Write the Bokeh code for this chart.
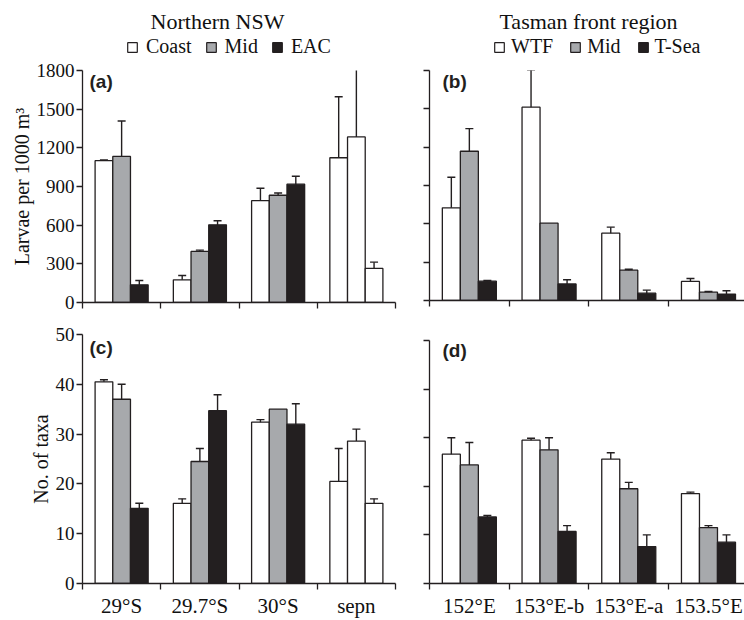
from bokeh.plotting import figure
from bokeh.models import (FixedTicker, Whisker, TeeHead, ColumnDataSource, Label,
                          Legend, LegendItem, CustomJSTickFormatter)
from bokeh.layouts import column, row
from bokeh.embed import file_html
from bokeh.resources import INLINE

# ---------------- data ----------------
cats_n = ["29°S", "29.7°S", "30°S", "sepn"]
cats_t = ["152°E", "153°E-b", "153°E-a", "153.5°E"]
series_n = ["Coast", "Mid", "EAC"]
series_t = ["WTF", "Mid", "T-Sea"]
region_titles = ["Northern NSW", "Tasman front region"]
white_groups = ["sepn"]  # all bars of this group are drawn unfilled in the original

# (a) larvae per 1000 m3, northern NSW
a_coast = [1100, 176, 790, 1123]
a_coast_err = [6, 33, 96, 473]
a_mid = [1133, 396, 832, 1285]
a_mid_err = [275, 10, 17, 572]
a_eac = [137, 603, 918, 264]
a_eac_err = [34, 31, 62, 49]

# (b) larvae per 1000 m3, Tasman front
b_wtf = [725, 1513, 527, 149]
b_wtf_err = [240, 290, 47, 23]
b_mid = [1168, 605, 237, 65]
b_mid_err = [177, 0, 8, 6]
b_tsea = [151, 130, 57, 50]
b_tsea_err = [5, 32, 24, 26]

# (c) number of taxa, northern NSW
c_coast = [40.5, 16.1, 32.4, 20.5]
c_coast_err = [0.4, 0.9, 0.5, 6.6]
c_mid = [37.0, 24.5, 35.0, 28.6]
c_mid_err = [3.0, 2.6, 0.0, 2.4]
c_eac = [15.1, 34.7, 32.0, 16.1]
c_eac_err = [1.0, 3.2, 4.1, 0.9]

# (d) number of taxa, Tasman front
d_wtf = [26.6, 29.5, 25.6, 18.5]
d_wtf_err = [3.4, 0.4, 1.3, 0.3]
d_mid = [24.4, 27.5, 19.5, 11.5]
d_mid_err = [4.6, 2.5, 1.3, 0.4]
d_tsea = [13.7, 10.7, 7.6, 8.5]
d_tsea_err = [0.3, 1.2, 2.4, 1.5]

larvae_ticks = [0, 300, 600, 900, 1200, 1500, 1800]
taxa_ticks = [0, 10, 20, 30, 40, 50]

# ---------------- style ----------------
SERIF = "Liberation Serif"
SANS = "Liberation Sans"
INK = "#231f20"
TXT = "#111111"
FILLS = ["#ffffff", "#a7a9ac", "#231f20"]
BAR_W = 0.226
OFFS = [-BAR_W, 0.0, BAR_W]
HEADER_H = 60

empty_fmt = CustomJSTickFormatter(code="return ''")


def make_panel(width, height, mb_left, mb_right, mb_top, mb_bottom, ymax, yticks,
               xend, cats, show_xlabels, show_ylabels, ylabel):
    p = figure(width=width, height=height, x_range=(0, xend), y_range=(0, ymax),
               output_backend="svg", toolbar_location=None,
               min_border_left=mb_left, min_border_right=mb_right,
               min_border_top=mb_top, min_border_bottom=mb_bottom)
    p.outline_line_color = None
    p.grid.visible = False
    p.background_fill_color = None
    p.border_fill_color = None
    n = len(cats)
    centers = [i + 0.5 for i in range(n)]
    p.xaxis.ticker = FixedTicker(ticks=centers, minor_ticks=list(range(n + 1)))
    p.xaxis.major_tick_out = 0
    p.xaxis.major_tick_in = 0
    p.xaxis.minor_tick_out = 6
    p.xaxis.minor_tick_in = 0
    p.xaxis.axis_line_color = INK
    p.xaxis.minor_tick_line_color = INK
    p.xaxis.axis_line_width = 1.3
    p.xaxis.minor_tick_line_width = 1.3
    if show_xlabels:
        p.xaxis.major_label_overrides = {c: lab for c, lab in zip(centers, cats)}
        p.xaxis.major_label_text_font = SERIF
        p.xaxis.major_label_text_font_size = "21px"
        p.xaxis.major_label_text_color = TXT
        p.xaxis.major_label_standoff = 4
    else:
        p.xaxis.formatter = empty_fmt
        p.xaxis.major_label_text_font_size = "0px"
        p.xaxis.major_label_standoff = 0
    p.yaxis.ticker = FixedTicker(ticks=yticks, minor_ticks=[])
    p.yaxis.major_tick_out = 6
    p.yaxis.major_tick_in = 0
    p.yaxis.axis_line_color = INK
    p.yaxis.major_tick_line_color = INK
    p.yaxis.axis_line_width = 1.3
    p.yaxis.major_tick_line_width = 1.3
    if show_ylabels:
        p.yaxis.major_label_text_font = SERIF
        p.yaxis.major_label_text_font_size = "19px"
        p.yaxis.major_label_text_color = TXT
        p.yaxis.major_label_standoff = 2
        p.yaxis.axis_label = ylabel
        p.yaxis.axis_label_text_font = SERIF
        p.yaxis.axis_label_text_font_size = "20px"
        p.yaxis.axis_label_text_font_style = "normal"
        p.yaxis.axis_label_text_color = TXT
        p.yaxis.axis_label_standoff = 1
    else:
        p.yaxis.formatter = empty_fmt
        p.yaxis.major_label_text_font_size = "0px"
        p.yaxis.major_label_standoff = 0
    return p


def add_bars(p, cats, vals_list, errs_list):
    for k, (vals, errs) in enumerate(zip(vals_list, errs_list)):
        xs = [i + 0.5 + OFFS[k] for i in range(len(cats))]
        fills = [FILLS[0] if c in white_groups else FILLS[k] for c in cats]
        src = ColumnDataSource(dict(x=xs, top=vals, fill=fills))
        p.vbar(x="x", top="top", width=BAR_W, bottom=0, source=src,
               fill_color="fill", line_color=INK, line_width=1.3)
        ex = [x for x, e in zip(xs, errs) if e > 0]
        ev = [v for v, e in zip(vals, errs) if e > 0]
        ee = [e for e in errs if e > 0]
        esrc = ColumnDataSource(dict(x=ex, lo=[v - e for v, e in zip(ev, ee)],
                                     hi=[v + e for v, e in zip(ev, ee)]))
        w = Whisker(base="x", lower="lo", upper="hi", source=esrc,
                    line_color=INK, line_width=1.4,
                    upper_head=TeeHead(size=8, line_color=INK, line_width=1.4),
                    lower_head=TeeHead(size=8, line_color=INK, line_width=1.4))
        p.add_layout(w)


def panel_tag(p, text, x, y):
    p.add_layout(Label(x=x, y=y, x_units="screen", y_units="screen", text=text,
                       text_font=SANS, text_font_style="bold", text_font_size="19px",
                       text_color=INK, text_baseline="top", text_align="left"))


# ---------------- header (titles + legends) ----------------
hdr = figure(width=744, height=HEADER_H, x_range=(0, 744), y_range=(HEADER_H, 0),
             output_backend="svg", toolbar_location=None,
             x_axis_type=None, y_axis_type=None,
             min_border=0, min_border_left=0, min_border_right=0,
             min_border_top=0, min_border_bottom=0)
hdr.outline_line_color = None
hdr.grid.visible = False
hdr.background_fill_color = None
hdr.border_fill_color = None

for title, tx in zip(region_titles, [217, 588]):
    hdr.add_layout(Label(x=tx, y=21, text=title, text_font=SERIF, text_font_size="22px",
                         text_color=TXT, text_baseline="middle", text_align="center"))

# legend keys: renderers whose single row has no position (NaN), so nothing is drawn
keys = []
for f in FILLS:
    ksrc = ColumnDataSource(dict(x=[float("nan")], top=[float("nan")]))
    keys.append(hdr.vbar(x="x", top="top", width=1, source=ksrc,
                         fill_color=f, line_color=INK, line_width=1.2))

for labels, lx, spacing, standoff in [(series_n, 126, 13, 8), (series_t, 493, 16, 6)]:
    items = [LegendItem(label=l, renderers=[r]) for l, r in zip(labels, keys)]
    leg = Legend(items=items, location=(lx, 2), orientation="horizontal",
                 glyph_width=12, glyph_height=12, label_height=12,
                 label_standoff=standoff, spacing=spacing, padding=0, margin=0,
                 border_line_color=None, background_fill_alpha=0,
                 label_text_font=SERIF, label_text_font_size="20px",
                 label_text_line_height=0.9, label_text_color=TXT)
    hdr.add_layout(leg, "center")

# ---------------- panels ----------------
TOP_H = 320 - HEADER_H
pa = make_panel(405, TOP_H, 82, 10, 70 - HEADER_H, 18, 1800, larvae_ticks, 4, cats_n,
                False, True, "Larvae per 1000 m³")
add_bars(pa, cats_n, [a_coast, a_mid, a_eac], [a_coast_err, a_mid_err, a_eac_err])
panel_tag(pa, "(a)", 7, 232)

pb = make_panel(339, TOP_H, 24, 0, 70 - HEADER_H, 20, 1800, larvae_ticks, 3.952, cats_t,
                False, False, "")
add_bars(pb, cats_t, [b_wtf, b_mid, b_tsea], [b_wtf_err, b_mid_err, b_tsea_err])
panel_tag(pb, "(b)", 13, 230)

pc = make_panel(405, 300, 82, 10, 14, 36, 50, taxa_ticks, 4, cats_n, True, True,
                "No. of taxa")
add_bars(pc, cats_n, [c_coast, c_mid, c_eac], [c_coast_err, c_mid_err, c_eac_err])
panel_tag(pc, "(c)", 7, 247)

pd_ = make_panel(339, 300, 24, 0, 20, 36, 50, taxa_ticks, 3.952, cats_t, True, False, "")
add_bars(pd_, cats_t, [d_wtf, d_mid, d_tsea], [d_wtf_err, d_mid_err, d_tsea_err])
panel_tag(pd_, "(d)", 13, 244)

layout = column(hdr, row(column(pa, pc, spacing=0), column(pb, pd_, spacing=0), spacing=0),
                spacing=0)
open("out.html", "w").write(file_html(layout, INLINE))
